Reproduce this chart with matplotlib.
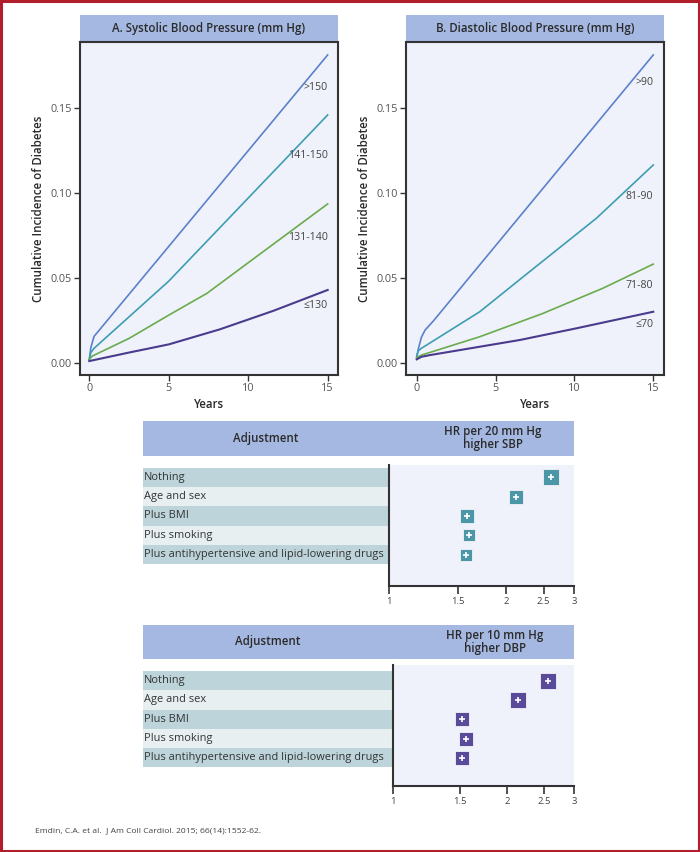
import matplotlib
matplotlib.use("Agg")
import matplotlib.pyplot as plt
from matplotlib.patches import Rectangle
from matplotlib.ticker import FixedLocator, FixedFormatter, NullLocator

plt.rcParams['font.family'] = ['Open Sans', 'DejaVu Sans']

# ---------------- data ----------------
years_ticks = [0, 5, 10, 15]
inc_ticks = [0.00, 0.05, 0.10, 0.15]

sbp_labels = [">150", "141-150", "131-140", "≤130"]
sbp_gt150_x = [0, 0.1, 0.3, 15]
sbp_gt150_y = [0.002, 0.009, 0.0155, 0.181]
sbp_141_x = [0, 0.1, 0.3, 5.0, 15]
sbp_141_y = [0.002, 0.006, 0.0085, 0.048, 0.1457]
sbp_131_x = [0, 0.2, 2.5, 5, 7.4, 10.75, 15]
sbp_131_y = [0.002, 0.004, 0.0143, 0.028, 0.0408, 0.064, 0.0934]
sbp_le130_x = [0, 2.5, 5, 8.2, 11.6, 15]
sbp_le130_y = [0.001, 0.006, 0.0108, 0.0196, 0.0306, 0.0428]

dbp_labels = [">90", "81-90", "71-80", "≤70"]
dbp_gt90_x = [0, 0.1, 0.3, 0.53, 1.05, 15]
dbp_gt90_y = [0.003, 0.008, 0.015, 0.0192, 0.0245, 0.181]
dbp_81_x = [0, 0.1, 0.3, 4.0, 6.76, 11.4, 15]
dbp_81_y = [0.004, 0.007, 0.0085, 0.030, 0.0506, 0.085, 0.1163]
dbp_71_x = [0, 0.3, 4.0, 8.0, 11.8, 15]
dbp_71_y = [0.003, 0.0045, 0.0153, 0.029, 0.0438, 0.058]
dbp_le70_x = [0, 0.3, 0.84, 6.55, 10.1, 15]
dbp_le70_y = [0.002, 0.0035, 0.0045, 0.0134, 0.0202, 0.030]

adjustments = ["Nothing", "Age and sex", "Plus BMI", "Plus smoking",
               "Plus antihypertensive and lipid-lowering drugs"]
sbp_hr = [2.62, 2.12, 1.59, 1.61, 1.58]
dbp_hr = [2.55, 2.13, 1.52, 1.55, 1.52]
hr_ticks = [1, 1.5, 2, 2.5, 3]
hr_ticklabels = ["1", "1.5", "2", "2.5", "3"]

# ---------------- style ----------------
W, H = 700, 852
C_BLUE = "#5b80cc"
C_TEAL = "#3d9db3"
C_GREEN = "#6aab4c"
C_PURPLE = "#4a3b8d"
C_FACE = "#eff2fa"
C_HEAD = "#a5b8e2"
C_SPINE = "#333333"
C_TICKLBL = "#555555"
C_ROW_DARK = "#bdd4db"
C_ROW_LIGHT = "#e7eff1"
C_SQ_SBP = "#4b97a8"
C_SQ_DBP = "#5a4b9a"
C_BORDER = "#b01e2b"
HEAD_W = "semibold"

fig = plt.figure(figsize=(W / 100, H / 100), dpi=100)
fig.patch.set_facecolor("white")


def rect(x0, y0, x1, y1):
    return [x0 / W, 1 - y1 / H, (x1 - x0) / W, (y1 - y0) / H]


def header(x0, y0, x1, y1):
    ax = fig.add_axes(rect(x0, y0, x1, y1))
    ax.set_facecolor(C_HEAD)
    ax.set_xticks([])
    ax.set_yticks([])
    for s in ax.spines.values():
        s.set_visible(False)
    return ax


def curve_panel(box, head, title, series, labels, label_y, xlim):
    hx = header(*head)
    hx.text(0.5, 0.5, title, ha="center", va="center", fontsize=8.3,
            color="#2a2a2a", fontweight=HEAD_W, transform=hx.transAxes)
    ax = fig.add_axes(rect(*box))
    ax.set_facecolor(C_FACE)
    for (xs, ys, c, lw) in series:
        ax.plot(xs, ys, color=c, lw=lw, solid_joinstyle="round")
    for lab, ly in zip(labels, label_y):
        ax.text(15.0, ly, lab, ha="right", va="center", fontsize=7.6,
                color="#444444")
    ax.set_xlim(*xlim)
    ax.set_ylim(-0.0072, 0.1886)
    ax.set_xticks(years_ticks)
    ax.set_yticks(inc_ticks)
    ax.set_yticklabels([f"{v:.2f}" for v in inc_ticks])
    ax.tick_params(axis="both", direction="out", length=4, width=1,
                   color=C_SPINE, labelsize=7.8, labelcolor=C_TICKLBL, pad=2)
    for s in ax.spines.values():
        s.set_color(C_SPINE)
        s.set_linewidth(1.5)
    ax.set_xlabel("Years", fontsize=8.3, color="#2a2a2a", labelpad=3,
                  fontweight=HEAD_W)
    ax.set_ylabel("Cumulative Incidence of Diabetes", fontsize=8.3,
                  color="#2a2a2a", labelpad=4, fontweight=HEAD_W)
    return ax


curve_panel((80, 42, 338, 375), (80, 15, 338, 42),
            "A. Systolic Blood Pressure (mm Hg)",
            [(sbp_gt150_x, sbp_gt150_y, C_BLUE, 1.2),
             (sbp_141_x, sbp_141_y, C_TEAL, 1.2),
             (sbp_131_x, sbp_131_y, C_GREEN, 1.2),
             (sbp_le130_x, sbp_le130_y, C_PURPLE, 1.5)],
            sbp_labels, [0.162, 0.1216, 0.0734, 0.0334], (-0.585, 15.65))

curve_panel((406, 42, 664, 375), (406, 15, 664, 42),
            "B. Diastolic Blood Pressure (mm Hg)",
            [(dbp_gt90_x, dbp_gt90_y, C_BLUE, 1.2),
             (dbp_81_x, dbp_81_y, C_TEAL, 1.2),
             (dbp_71_x, dbp_71_y, C_GREEN, 1.2),
             (dbp_le70_x, dbp_le70_y, C_PURPLE, 1.5)],
            dbp_labels, [0.1645, 0.0975, 0.0457, 0.0222], (-0.678, 15.68))


def forest(head, lab_box, plot_box, top_off, hr_title, values, sq_color, sq_sizes):
    hx = header(*head)
    hx.set_xlim(head[0], head[2])
    hx.set_ylim(0, 1)
    hx.text(lab_box[0] + (lab_box[2] - lab_box[0]) * 0.5, 0.5, "Adjustment",
            ha="center", va="center", fontsize=8.3, color="#2a2a2a",
            fontweight=HEAD_W)
    hx.text(plot_box[0] + (plot_box[2] - plot_box[0]) * 0.56, 0.5, hr_title,
            ha="center", va="center", fontsize=8.3, color="#2a2a2a",
            fontweight=HEAD_W, linespacing=1.0)
    rows_visible = (plot_box[3] - plot_box[1]) / 19.3
    ylim = (-0.5 - top_off + rows_visible, -0.5 - top_off)

    la = fig.add_axes(rect(*lab_box))
    la.set_xlim(0, 1)
    la.set_ylim(*ylim)
    la.axis("off")
    for i, lab in enumerate(adjustments):
        la.barh(i, 1, left=0, height=1.0,
                color=C_ROW_DARK if i % 2 == 0 else C_ROW_LIGHT, lw=0)
        la.text(0.004, i, lab, ha="left", va="center", fontsize=7.9,
                color="#333333")

    ax = fig.add_axes(rect(*plot_box))
    ax.set_facecolor(C_FACE)
    ax.set_xscale("log")
    ax.set_xlim(1, 3)
    ax.set_ylim(*ylim)
    ax.xaxis.set_major_locator(FixedLocator(hr_ticks))
    ax.xaxis.set_major_formatter(FixedFormatter(hr_ticklabels))
    ax.xaxis.set_minor_locator(NullLocator())
    ax.set_yticks([])
    for s in ["top", "right"]:
        ax.spines[s].set_visible(False)
    for s in ["left", "bottom"]:
        ax.spines[s].set_color(C_SPINE)
        ax.spines[s].set_linewidth(1.5)
    ax.tick_params(axis="x", direction="out", length=6, width=1.2,
                   color=C_SPINE, labelsize=6.8, labelcolor="#444444", pad=2)
    for i, v in enumerate(values):
        ax.plot([v], [i], marker="s", ms=sq_sizes[i], color=sq_color,
                mec="#f4f4f8", mew=0.6, clip_on=False)
        ax.plot([v], [i], marker="+", ms=4.5, color="white", mew=1.2,
                clip_on=False)


forest((142.7, 421, 574.3, 455.7), (142.7, 465, 389.3, 585.7),
       (389.3, 465, 574.3, 585.7), 0.14, "HR per 20 mm Hg\nhigher SBP",
       sbp_hr, C_SQ_SBP, [12, 10.6, 9.6, 8.6, 8.6])

forest((142.7, 625, 574.3, 659), (142.7, 665, 393.3, 785.7),
       (393.3, 665, 574.3, 785.7), 0.31, "HR per 10 mm Hg\nhigher DBP",
       dbp_hr, C_SQ_DBP, [12, 11, 10.3, 9.6, 9.6])

fig.text(35 / W, 1 - 831 / H,
         "Emdin, C.A. et al.  J Am Coll Cardiol. 2015; 66(14):1552-62.",
         ha="left", va="center", fontsize=6.1, color="#444444")

fig.patches.append(Rectangle((1 / W, 1 / H), 1 - 2 / W, 1 - 2 / H,
                             transform=fig.transFigure, fill=False,
                             edgecolor=C_BORDER, lw=2.2, zorder=10))

fig.savefig("out.png", dpi=100)
